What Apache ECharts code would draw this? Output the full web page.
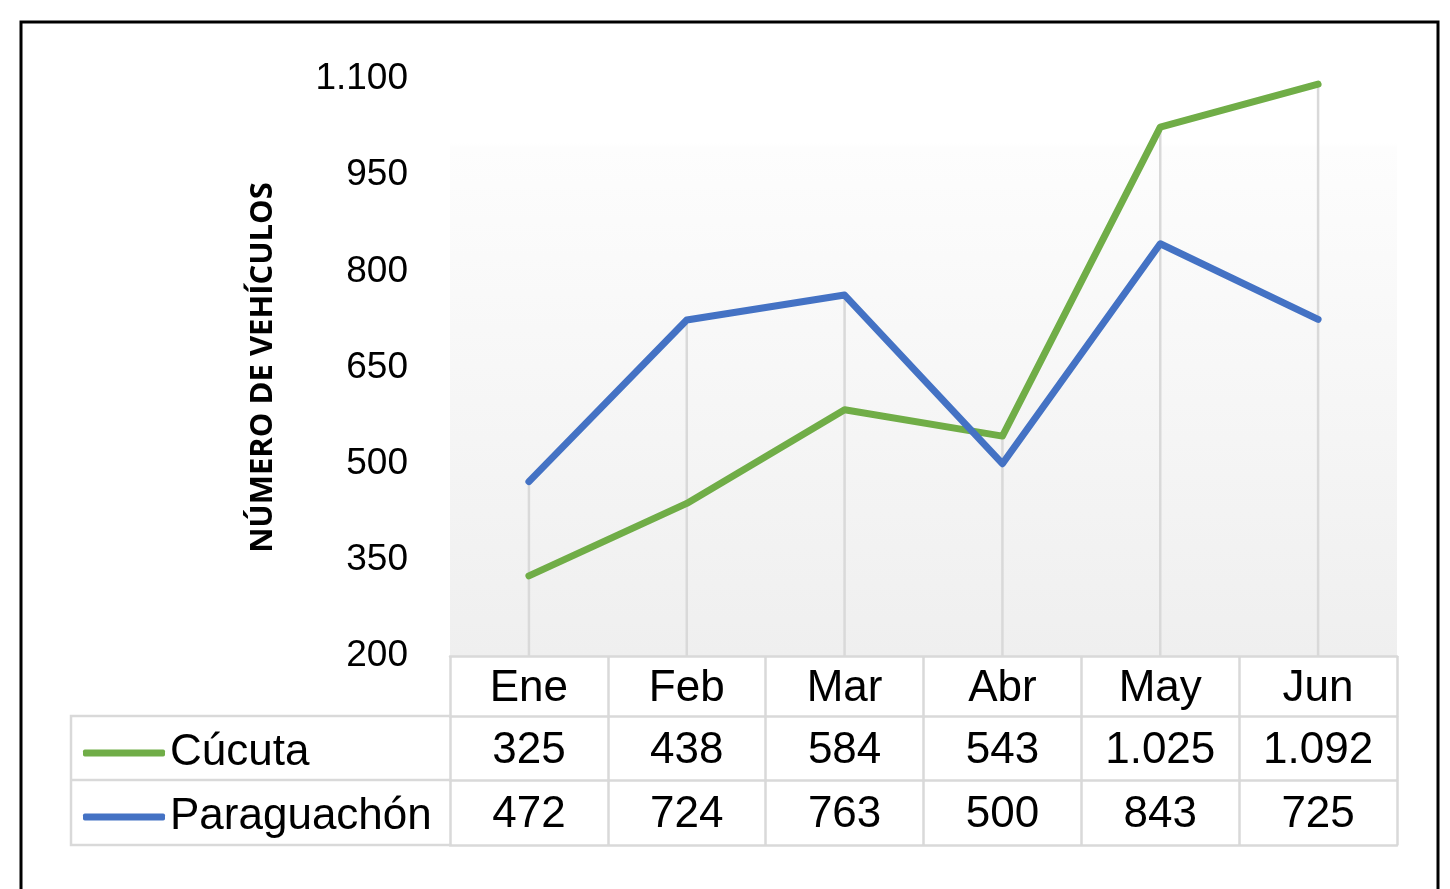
<!DOCTYPE html>
<html>
<head>
<meta charset="utf-8">
<script src="https://cdn.jsdelivr.net/npm/echarts@6/dist/echarts.min.js"></script>
<style>
html,body{margin:0;padding:0;background:#fff;}
#chart{width:1450px;height:889px;}
</style>
</head>
<body>
<div id="chart"></div>
<script>
const months = ['Ene','Feb','Mar','Abr','May','Jun'];
const cucuta = [325,438,584,543,1025,1092];
const paraguachon = [472,724,763,500,843,725];
const seriesNames = ['Cúcuta','Paraguachón'];
const yTitle = 'NÚMERO DE VEHÍCULOS';
const yMin = 200, yMax = 1100, yStep = 150;

function fmt(v){
  return v >= 1000 ? Math.floor(v/1000) + '.' + String(v % 1000).padStart(3,'0') : String(v);
}
const dropTops = months.map((m,i)=>Math.max(cucuta[i], paraguachon[i]));

const FONT = '"Liberation Sans", Arial, sans-serif';
const GRID_C = '#d9d9d9';
const chart = echarts.init(document.getElementById('chart'), null, {renderer:'canvas'});

function tableAxis(offset, tickLen, margin, labelFn, showLabel){
  return {
    type:'category', data: months, position:'bottom', offset: offset, gridIndex:0,
    boundaryGap:true,
    axisLine:{show:true, lineStyle:{color:GRID_C, width:2.5}},
    axisTick:{show: tickLen>0, interval:0, length: tickLen, lineStyle:{color:GRID_C, width:2.5}},
    axisLabel:{show: showLabel, interval:0, margin: margin, fontSize:44, lineHeight:44, color:'#000', fontFamily:FONT,
      formatter: labelFn},
    splitLine:{show:false}
  };
}

const option = {
  animation:false,
  grid:{left:450, right:53, top:79, bottom:233, show:true, borderWidth:0,
    backgroundColor:{type:'linear', x:0, y:0, x2:0, y2:1, colorStops:[
      {offset:0, color:'#ffffff'},{offset:0.11, color:'#ffffff'},{offset:0.12, color:'#fdfdfd'},{offset:1, color:'#efefef'}]}},
  legend:{
    data: seriesNames, orient:'vertical', left:78, top:726, itemGap:20,
    itemWidth:82, itemHeight:7, icon:'roundRect',
    textStyle:{fontSize:44, lineHeight:44, color:'#000', fontFamily:FONT}
  },
  xAxis:[
    tableAxis(0, 60, 11, (v)=>v, true),
    tableAxis(60, 64, 13, (v,i)=>fmt(cucuta[i]), true),
    tableAxis(124, 65, 13, (v,i)=>fmt(paraguachon[i]), true),
    tableAxis(189, 0, 8, (v)=>'', false)
  ],
  yAxis:{
    type:'value', min:yMin, max:yMax, interval:yStep,
    axisLine:{show:false}, axisTick:{show:false}, splitLine:{show:false},
    axisLabel:{fontSize:37, color:'#000', margin:42, fontFamily:FONT, formatter:(v)=>fmt(v)},
    name: yTitle, nameLocation:'middle', nameRotate:90, nameGap:171,
    nameTextStyle:{fontSize:31, fontWeight:'bold', color:'#000', fontFamily:'"Open Sans", sans-serif'}
  },
  series:[
    {name:'drop', type:'bar', data: dropTops, barWidth:2.5, silent:true,
      itemStyle:{color:GRID_C}, z:1},
    {name: seriesNames[0], type:'line', data: cucuta, symbol:'none', z:3,
      lineStyle:{color:'#70ad47', width:7, cap:'round', join:'round'}, itemStyle:{color:'#70ad47'}},
    {name: seriesNames[1], type:'line', data: paraguachon, symbol:'none', z:4,
      lineStyle:{color:'#4472c4', width:7, cap:'round', join:'round'}, itemStyle:{color:'#4472c4'}}
  ],
  graphic:[
    {type:'rect', shape:{x:21, y:22, width:1417, height:920}, style:{fill:'none', stroke:'#000', lineWidth:3}, z:100},
    {type:'polyline', shape:{points:[[450,716],[71,716],[71,845],[450,845]]}, style:{fill:'none', stroke:GRID_C, lineWidth:2.5}},
    {type:'line', shape:{x1:71, y1:780, x2:450, y2:780}, style:{stroke:GRID_C, lineWidth:2.5}}
  ]
};
chart.setOption(option);
</script>
</body>
</html>
